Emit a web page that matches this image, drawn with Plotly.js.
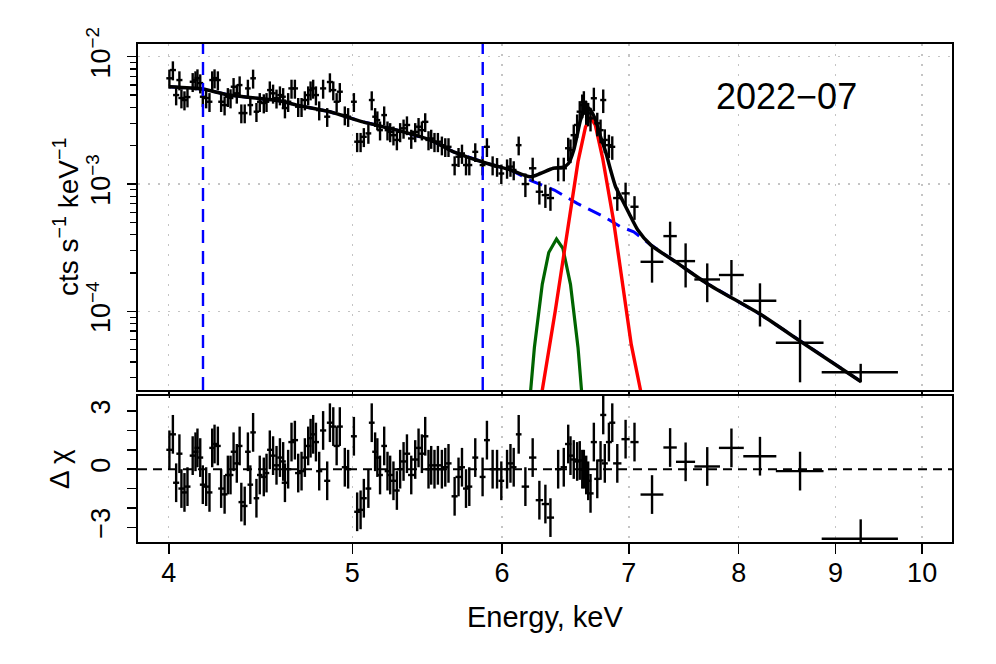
<!DOCTYPE html>
<html>
<head>
<meta charset="utf-8">
<script src="https://cdn.plot.ly/plotly-3.0.1.min.js"></script>
<style>html,body{margin:0;padding:0;background:#fff;}#chart{width:996px;height:664px;}</style>
</head>
<body>
<div id="chart"></div>
<script>
// ---- spectrum data points (energy keV, counts s^-1 keV^-1) ----
const energy = [
4.003,4.020,4.036,4.052,4.062,4.077,4.092,4.118,4.132,4.142,
4.156,4.169,4.186,4.203,4.217,4.229,4.246,4.263,4.281,4.298,
4.312,4.328,4.345,4.360,4.369,4.387,4.404,4.417,4.432,4.450,
4.468,4.490,4.505,4.523,4.541,4.560,4.579,4.597,4.607,4.625,
4.644,4.663,4.682,4.701,4.720,4.739,4.753,4.768,4.784,4.803,
4.826,4.850,4.866,4.886,4.906,4.925,4.955,4.975,5.010,5.030,
5.051,5.071,5.099,5.120,5.141,5.155,5.172,5.198,5.219,5.236,
5.257,5.279,5.300,5.322,5.344,5.372,5.398,5.420,5.442,5.464,
5.486,5.504,5.526,5.549,5.576,5.599,5.621,5.663,5.690,5.714,
5.742,5.765,5.807,5.859,5.890,5.931,5.963,5.994,6.036,6.061,
6.085,6.122,6.172,6.227,6.278,6.324,6.363,6.423,6.467,6.502,
6.520,6.546,6.573,6.594,6.614,6.627,6.646,6.662,6.681,6.708,
6.736,6.763,6.785,6.798,6.832,6.860,6.902,6.972,7.048,7.20,
7.36,7.50,7.70,7.93,8.21,8.62,9.28];
const energyHalfWidth = [
0.015,0.015,0.015,0.015,0.015,0.015,0.015,0.015,0.015,0.015,
0.015,0.015,0.015,0.015,0.015,0.015,0.015,0.015,0.015,0.015,
0.015,0.015,0.015,0.015,0.015,0.015,0.015,0.015,0.015,0.015,
0.015,0.015,0.015,0.015,0.015,0.015,0.015,0.015,0.018,0.018,
0.018,0.018,0.018,0.018,0.018,0.018,0.018,0.018,0.018,0.018,
0.018,0.018,0.018,0.018,0.018,0.018,0.018,0.018,0.018,0.018,
0.018,0.018,0.018,0.018,0.018,0.018,0.018,0.018,0.018,0.018,
0.018,0.018,0.021,0.021,0.021,0.021,0.021,0.021,0.021,0.021,
0.021,0.021,0.021,0.021,0.021,0.021,0.021,0.021,0.021,0.021,
0.021,0.021,0.021,0.021,0.021,0.021,0.021,0.021,0.021,0.021,
0.021,0.021,0.028,0.028,0.028,0.028,0.028,0.025,0.025,0.025,
0.025,0.025,0.025,0.025,0.025,0.025,0.025,0.025,0.025,0.025,
0.025,0.025,0.025,0.025,0.025,0.025,0.035,0.035,0.035,0.10,
0.06,0.087,0.12,0.12,0.165,0.25,0.43];
const rate = [
6.77e-3,7.86e-3,5.00e-3,6.56e-3,4.74e-3,4.57e-3,4.82e-3,6.36e-3,6.56e-3,6.80e-3,
6.21e-3,4.85e-3,4.74e-3,4.43e-3,6.56e-3,6.80e-3,6.56e-3,4.43e-3,4.17e-3,4.85e-3,
4.74e-3,5.81e-3,5.16e-3,5.99e-3,3.61e-3,3.61e-3,5.64e-3,4.17e-3,6.77e-3,3.70e-3,
4.43e-3,4.33e-3,4.43e-3,5.47e-3,5.16e-3,4.72e-3,5.00e-3,4.85e-3,3.95e-3,4.43e-3,
5.64e-3,5.64e-3,4.05e-3,4.05e-3,4.57e-3,5.00e-3,5.47e-3,5.64e-3,5.00e-3,3.81e-3,
5.64e-3,3.38e-3,6.33e-3,5.47e-3,4.43e-3,5.31e-3,3.48e-3,3.38e-3,4.43e-3,2.15e-3,
2.15e-3,2.35e-3,2.50e-3,4.57e-3,3.38e-3,3.18e-3,2.65e-3,3.48e-3,2.65e-3,2.57e-3,
2.42e-3,2.22e-3,2.57e-3,2.74e-3,2.91e-3,2.28e-3,2.57e-3,2.82e-3,2.65e-3,3.08e-3,
2.22e-3,2.28e-3,2.15e-3,2.15e-3,2.02e-3,1.96e-3,1.96e-3,1.41e-3,1.64e-3,1.74e-3,
1.41e-3,1.41e-3,1.79e-3,1.41e-3,1.96e-3,1.41e-3,1.37e-3,1.21e-3,1.33e-3,1.37e-3,
1.29e-3,2.02e-3,1.00e-3,1.33e-3,8.70e-4,8.19e-4,7.76e-4,1.33e-3,1.33e-3,1.91e-3,
1.85e-3,2.42e-3,2.91e-3,3.70e-3,4.17e-3,4.43e-3,3.70e-3,3.59e-3,3.28e-3,4.72e-3,
3.00e-3,2.65e-3,4.57e-3,2.22e-3,2.02e-3,1.96e-3,7.76e-4,8.45e-4,6.63e-4,2.45e-4,
3.90e-4,2.48e-4,1.78e-4,1.93e-4,1.21e-4,5.67e-5,3.32e-5];
const rateErr = [
1.15e-3,1.34e-3,8.5e-4,1.12e-3,8.1e-4,7.8e-4,8.2e-4,1.08e-3,1.12e-3,1.16e-3,
1.06e-3,8.2e-4,8.1e-4,7.5e-4,1.12e-3,1.16e-3,1.12e-3,7.5e-4,7.1e-4,8.2e-4,
8.1e-4,9.9e-4,8.8e-4,1.02e-3,6.1e-4,6.1e-4,9.6e-4,7.1e-4,1.15e-3,6.3e-4,
7.5e-4,7.4e-4,7.5e-4,9.3e-4,8.8e-4,8.0e-4,8.5e-4,8.2e-4,6.7e-4,7.5e-4,
9.6e-4,9.6e-4,6.9e-4,6.9e-4,7.8e-4,8.5e-4,9.3e-4,9.6e-4,8.5e-4,6.5e-4,
9.6e-4,5.7e-4,1.08e-3,9.3e-4,7.5e-4,9.0e-4,5.9e-4,5.7e-4,7.5e-4,3.7e-4,
3.7e-4,4.0e-4,4.3e-4,7.8e-4,5.7e-4,5.4e-4,4.5e-4,5.9e-4,4.5e-4,4.4e-4,
4.1e-4,3.8e-4,4.4e-4,4.7e-4,4.9e-4,3.9e-4,4.4e-4,4.8e-4,4.5e-4,5.2e-4,
3.8e-4,3.9e-4,3.7e-4,3.7e-4,3.4e-4,3.3e-4,3.3e-4,2.4e-4,2.8e-4,3.0e-4,
2.4e-4,2.4e-4,3.0e-4,2.4e-4,3.3e-4,2.4e-4,2.3e-4,2.1e-4,2.3e-4,2.3e-4,
2.2e-4,3.4e-4,2.1e-4,2.8e-4,1.8e-4,1.7e-4,1.6e-4,2.8e-4,2.8e-4,4.0e-4,
3.9e-4,5.1e-4,6.1e-4,7.8e-4,8.8e-4,9.3e-4,7.8e-4,7.5e-4,6.9e-4,9.9e-4,
6.3e-4,5.6e-4,9.6e-4,4.7e-4,4.2e-4,4.1e-4,1.6e-4,1.8e-4,1.4e-4,7.7e-5,
1.16e-4,9.4e-5,6.0e-5,6.0e-5,4.5e-5,2.9e-5,5.5e-6];
// residuals in sigma units
const residual = [
1.0,1.8,-0.7,0.8,-1.0,-1.2,-0.9,0.7,0.9,1.1,
0.6,-0.8,-0.9,-1.2,1.1,1.3,1.2,-1.0,-1.3,-0.3,
-0.3,0.9,0.3,1.2,-1.7,-1.9,0.9,-0.8,1.9,-1.5,
-0.3,-0.4,-0.2,1.0,0.7,0.2,0.6,0.4,-0.7,0.0,
1.4,1.5,-0.2,-0.1,0.6,1.2,1.6,1.8,1.4,-0.1,
2.0,-0.6,2.4,2.2,1.2,2.2,0.1,0.0,1.7,-2.2,
-2.1,-1.5,-1.0,2.4,0.9,0.6,-0.3,1.2,-0.1,-0.3,
-0.6,-1.1,0.0,0.4,0.8,-0.3,0.5,1.1,0.8,1.7,
0.0,0.2,0.0,0.2,0.0,0.1,0.3,-1.4,-0.4,0.1,
-1.0,-0.9,0.6,-0.4,1.5,0.0,0.0,-0.6,0.0,0.3,
0.1,1.8,-0.9,0.6,-1.6,-1.8,-2.5,0.0,0.1,1.3,
0.7,0.5,0.4,0.45,0.0,0.0,-0.3,-0.6,-1.25,1.4,
-0.5,0.45,2.8,0.3,1.4,2.4,0.3,1.55,1.4,-1.31,
1.12,0.38,0.14,1.10,0.67,-0.10,-3.59];
const residualErr = 1;

// ---- model curves ----
const modelE = [4.003,4.168,4.307,4.579,4.674,4.866,5.065,5.281,5.497,5.656,5.893,6.061,6.209,6.285,6.385,6.464,6.504,6.546,6.573,6.600,6.627,6.654,6.681,6.722,6.763,6.805,6.846,6.888,6.945,7.001,7.075,7.188,7.427,7.700,8.230,8.627,9.285];
const modelTotal = [5.81e-3,5.57e-3,5.00e-3,4.49e-3,4.17e-3,3.70e-3,3.08e-3,2.65e-3,2.22e-3,1.79e-3,1.45e-3,1.29e-3,1.14e-3,1.21e-3,1.33e-3,1.36e-3,1.45e-3,1.85e-3,2.42e-3,3.18e-3,3.70e-3,3.99e-3,3.81e-3,3.18e-3,2.35e-3,1.79e-3,1.29e-3,9.52e-4,7.45e-4,5.9e-4,4.38e-4,3.33e-4,2.39e-4,1.65e-4,9.3e-5,5.8e-5,2.8e-5];
const contE = [4.003,4.168,4.307,4.579,4.674,4.866,5.065,5.281,5.497,5.656,5.893,6.061,6.209,6.393,6.573,6.791,6.930,7.041,7.188,7.427,7.700,8.230,8.627,9.285];
const contY = [5.81e-3,5.57e-3,5.00e-3,4.49e-3,4.17e-3,3.70e-3,3.08e-3,2.65e-3,2.22e-3,1.79e-3,1.45e-3,1.29e-3,1.07e-3,8.97e-4,7.05e-4,5.53e-4,4.62e-4,4.22e-4,3.33e-4,2.39e-4,1.65e-4,9.3e-5,5.8e-5,2.8e-5];
const line64E = [6.18,6.24,6.30,6.35,6.41,6.46,6.52,6.58,6.64];
const line64Y = [1.0e-5,5.2e-5,1.63e-4,2.9e-4,3.7e-4,3.12e-4,1.63e-4,5.2e-5,1.0e-5];
const line67E = [6.26,6.30,6.40,6.50,6.58,6.64,6.68,6.72,6.78,6.87,6.95,7.02,7.10,7.16];
const line67Y = [1.0e-5,2.4e-5,1.0e-4,4.5e-4,1.5e-3,2.8e-3,3.35e-3,2.9e-3,1.6e-3,5.2e-4,1.5e-4,5.5e-5,2.4e-5,1.2e-5];

// ---- fit-interval markers and labels ----
const intervalE = [4.17, 5.86];
const xTicks = [4,5,6,7,8,9,10];
const yTicks = [1e-4,1e-3,1e-2];
const yTickText = ['10<sup>−4</sup>','10<sup>−3</sup>','10<sup>−2</sup>'];
const yMinor = [3e-5,4e-5,5e-5,6e-5,7e-5,8e-5,9e-5,2e-4,3e-4,4e-4,5e-4,6e-4,7e-4,8e-4,9e-4,2e-3,3e-3,4e-3,5e-3,6e-3,7e-3,8e-3,9e-3];
const rTicks = [-3,0,3];
const rTickText = ['−3','0','3'];
const rMinor = [-2,-1,1,2];
const epochLabel = '2022−07';

const FONT = 'Liberation Sans, Arial, Helvetica, sans-serif';
const errStyle = {type:'data', color:'#000', thickness:2.4, width:0, visible:true};

const traces = [
  {x: contE, y: contY, xaxis:'x', yaxis:'y', mode:'lines', line:{color:'#0000ff', width:3, dash:'14px,8px'}, hoverinfo:'skip'},
  {x: line64E, y: line64Y, xaxis:'x', yaxis:'y', mode:'lines', line:{color:'#006400', width:3.2}},
  {x: line67E, y: line67Y, xaxis:'x', yaxis:'y', mode:'lines', line:{color:'#ff0000', width:3.4}},
  {x: energy, y: rate, xaxis:'x', yaxis:'y', mode:'markers', marker:{size:2, color:'#000'},
   error_y: Object.assign({array: rateErr}, errStyle),
   error_x: Object.assign({array: energyHalfWidth}, errStyle)},
  {x: modelE, y: modelTotal, xaxis:'x', yaxis:'y', mode:'lines', line:{color:'#000', width:3.5, shape:'spline', smoothing:0.6}},
  {x: energy, y: residual, xaxis:'x2', yaxis:'y2', mode:'markers', marker:{size:2, color:'#000'},
   error_y: {type:'constant', value: residualErr, color:'#000', thickness:2.4, width:0},
   error_x: Object.assign({array: energyHalfWidth}, errStyle)}
];
// vertical dashed lines marking the fit interval (drawn on an overlay axis spanning the top panel)
intervalE.forEach(e => traces.push({x:[e,e], y:[0,1], xaxis:'x', yaxis:'y3', mode:'lines',
  line:{color:'#0000ff', width:2.4, dash:'13px,8px'}, hoverinfo:'skip'}));

const xRange = [Math.log10(3.853), Math.log10(10.37)];
const gridStyle = {showgrid:true, gridcolor:'#c4c4c4', gridwidth:1.3, griddash:'2px,8px'};
const axisLine = {showline:true, linecolor:'#000', linewidth:2, mirror:true, zeroline:false};
const tickFont = {family: FONT, size: 27, color:'#000'};

const layout = {
  width: 996, height: 664,
  margin: {l:138, r:44, t:44, b:122, pad:0},
  paper_bgcolor:'#fff', plot_bgcolor:'#fff',
  showlegend:false,
  font:{family: FONT, color:'#000'},
  xaxis: Object.assign({type:'log', range:xRange, domain:[0,1], anchor:'y', tickvals:xTicks,
    showticklabels:false, ticks:'outside', ticklen:6, tickwidth:1.5, tickcolor:'#000'}, gridStyle, axisLine),
  yaxis: Object.assign({type:'log', range:[Math.log10(2.41e-5), Math.log10(0.01259)], domain:[0.3052,1], anchor:'x',
    tickvals:yTicks, ticktext:yTickText, tickangle:-90, ticks:'outside', ticklen:9, tickwidth:1.5, tickcolor:'#000',
    tickfont:tickFont, ticklabelstandoff:6,
    minor:{tickvals:yMinor, ticks:'outside', ticklen:6, tickwidth:1.2, tickcolor:'#000', showgrid:false}}, gridStyle, axisLine),
  yaxis3: {overlaying:'y', anchor:'x', range:[0,1], visible:false, showgrid:false, zeroline:false, fixedrange:true},
  xaxis2: Object.assign({type:'log', range:xRange, domain:[0,1], anchor:'y2', tickvals:xTicks,
    ticktext: xTicks.map(String), ticks:'outside', ticklen:10, tickwidth:1.5, tickcolor:'#000', tickfont:tickFont,
    ticklabelstandoff:-4}, gridStyle, axisLine),
  yaxis2: Object.assign({range:[-3.76,3.78], domain:[0,0.2932], anchor:'x2', tickvals:rTicks, ticktext:rTickText,
    tickangle:-90, ticks:'outside', ticklen:9, tickwidth:1.5, tickcolor:'#000', tickfont:tickFont,
    ticklabelstandoff:6, showgrid:false,
    minor:{tickvals:rMinor, ticks:'outside', ticklen:9, tickwidth:1.5, tickcolor:'#000', showgrid:false}}, axisLine),
  shapes: [
    {type:'line', xref:'x2 domain', yref:'y2', x0:0, x1:1, y0:0, y1:0, layer:'below',
      line:{color:'#000', width:2, dash:'9px,6px'}}
  ],
  annotations: [
    {text: epochLabel, xref:'paper', yref:'paper', x:0.797, y:0.8936, xanchor:'center', yanchor:'middle',
      showarrow:false, font:{family:FONT, size:36, color:'#000'}},
    {text:'cts s<sup>−1</sup> keV<sup>−1</sup>', xref:'paper', yref:'paper', x:-0.0885, y:0.6526, textangle:-90,
      xanchor:'center', yanchor:'middle', showarrow:false, font:{family:FONT, size:28, color:'#000'}},
    {text:'Δ χ', xref:'paper', yref:'paper', x:-0.0958, y:0.1466, textangle:-90,
      xanchor:'center', yanchor:'middle', showarrow:false, font:{family:FONT, size:28, color:'#000'}},
    {text:'Energy, keV', xref:'paper', yref:'paper', x:0.5, y:-0.1506,
      xanchor:'center', yanchor:'middle', showarrow:false, font:{family:FONT, size:29, color:'#000'}}
  ]
};

Plotly.newPlot('chart', traces, layout, {staticPlot:true, displayModeBar:false});
</script>
</body>
</html>
